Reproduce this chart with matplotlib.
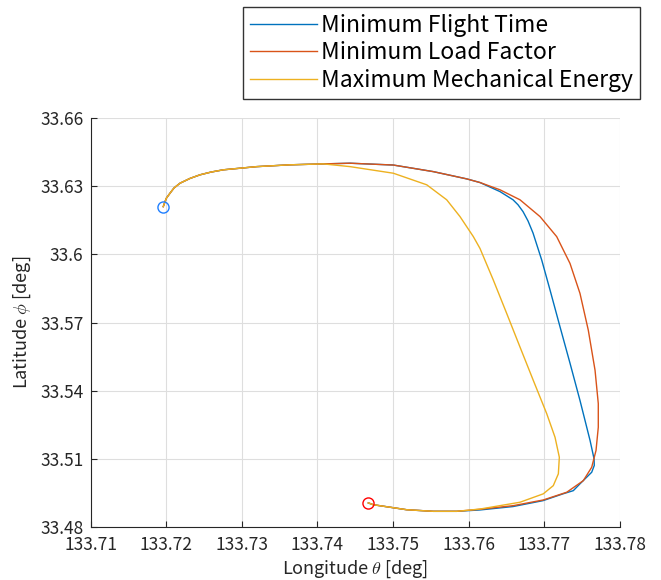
import matplotlib
matplotlib.use('Agg')
import matplotlib.pyplot as plt

plt.rcParams['font.family'] = ['Noto Sans CJK JP', 'DejaVu Sans']
plt.rcParams['mathtext.fontset'] = 'cm'

# trajectory points (longitude, latitude in deg)
start_lon = [133.71962, 133.71985, 133.72005, 133.72051, 133.72104, 133.72183,
             133.72315, 133.72448, 133.72593, 133.72756, 133.73197, 133.73637,
             133.74078]
start_lat = [33.6210, 33.6232, 33.6248, 33.6269, 33.6292, 33.6313,
             33.6334, 33.6350, 33.6362, 33.6372, 33.6386, 33.6394,
             33.6398]

end_lon = [133.75841, 133.75532, 133.7518, 133.7496, 133.74739, 133.74673]
end_lat = [33.4869, 33.4869, 33.4876, 33.4887, 33.4898, 33.4906]

flight_lon = [133.74431, 133.75003, 133.75532, 133.75974, 133.76149, 133.76414,
              133.76586, 133.76652, 133.76718, 133.76784, 133.7685, 133.76965,
              133.77075, 133.77207, 133.77339, 133.77471, 133.77604, 133.77657,
              133.7766, 133.77626, 133.77471, 133.77383, 133.77247, 133.76982,
              133.76586, 133.76149]
flight_lat = [33.6401, 33.6393, 33.6364, 33.6332, 33.6316, 33.6276,
              33.6240, 33.6218, 33.6188, 33.6147, 33.6094, 33.5975,
              33.5843, 33.5681, 33.5521, 33.5357, 33.5181, 33.5100,
              33.5071, 33.5041, 33.4990, 33.4960, 33.4946, 33.4916,
              33.4890, 33.4875]

load_lon = [133.74431, 133.75003, 133.75532, 133.75974, 133.76149, 133.76414,
            133.76678, 133.76943, 133.77163, 133.77339, 133.77471, 133.77581,
            133.7767, 133.77713, 133.77713, 133.77683, 133.77626, 133.77515,
            133.77296, 133.76986, 133.7659, 133.76149]
load_lat = [33.6401, 33.6393, 33.6364, 33.6332, 33.6316, 33.6284,
            33.6240, 33.6166, 33.6078, 33.5960, 33.5828, 33.5666,
            33.5490, 33.5343, 33.5239, 33.5137, 33.5063, 33.5004,
            33.4953, 33.4919, 33.4894, 33.4878]

energy_lon = [133.74431, 133.75003, 133.75445, 133.75709, 133.75885, 133.76061,
              133.76149, 133.76325, 133.76502, 133.76678, 133.76854,
              133.77031, 133.77141, 133.77198, 133.77185, 133.77118, 133.76986,
              133.76678, 133.76149]
energy_lat = [33.6386, 33.6357, 33.6306, 33.6240, 33.6166, 33.6078,
              33.6026, 33.5887, 33.5740, 33.5592, 33.5445,
              33.5299, 33.5195, 33.5107, 33.5034, 33.4982, 33.4946,
              33.4909, 33.4879]

labels = ['Minimum Flight Time', 'Minimum Load Factor', 'Maximum Mechanical Energy']
colors = ['#0072BD', '#D95319', '#EDB120']

xticks = [133.71, 133.72, 133.73, 133.74, 133.75, 133.76, 133.77, 133.78]
xticklabels = ['133.71', '133.72', '133.73', '133.74', '133.75', '133.76', '133.77', '133.78']
yticks = [33.48, 33.51, 33.54, 33.57, 33.60, 33.63, 33.66]
yticklabels = ['33.48', '33.51', '33.54', '33.57', '33.6', '33.63', '33.66']

fig = plt.figure(figsize=(6.61, 5.8), dpi=100)
ax = fig.add_axes([90.5 / 661, 1 - 527 / 580, 529.5 / 661, 409 / 580])

series = [(flight_lon, flight_lat), (load_lon, load_lat), (energy_lon, energy_lat)]
for (lon, lat), lab, col in zip(series, labels, colors):
    ax.plot(start_lon + lon + end_lon, start_lat + lat + end_lat,
            color=col, lw=1.0, label=lab, solid_joinstyle='round')

# start / end markers
ax.plot(start_lon[0], start_lat[0], 'o', mfc='none', mec='#1f7fff', ms=8, mew=1.0)
ax.plot(end_lon[-1], end_lat[-1], 'o', mfc='none', mec='red', ms=8, mew=1.0)

ax.set_xlim(133.71, 133.78)
ax.set_ylim(33.48, 33.66)
ax.set_xticks(xticks)
ax.set_xticklabels(xticklabels)
ax.set_yticks(yticks)
ax.set_yticklabels(yticklabels)
ax.grid(True, color='#dedede', lw=0.8)
ax.set_axisbelow(True)
for s in ['top', 'right']:
    ax.spines[s].set_visible(False)
for s in ['left', 'bottom']:
    ax.spines[s].set_color('#262626')
    ax.spines[s].set_linewidth(0.8)
ax.tick_params(direction='in', length=4, width=0.8, colors='#262626',
               labelsize=12.5, labelcolor='#262626')
ax.tick_params(axis='x', pad=6.5)
ax.tick_params(axis='y', pad=5)
ax.set_xlabel(r'Longitude $\theta$ [deg]', fontsize=13, color='#262626', labelpad=3)
ax.set_ylabel(r'Latitude $\phi$ [deg]', fontsize=13, color='#262626', labelpad=5)

handles = ax.get_lines()[:3]
leg = fig.legend(handles, labels, loc='upper right',
                 bbox_to_anchor=(640 / 661, 1 - 7 / 580), borderaxespad=0,
                 fontsize=16.5, frameon=True, fancybox=False, edgecolor='black',
                 handlelength=2.9, handletextpad=0.2, labelspacing=0.2,
                 borderpad=0.3)
leg.get_frame().set_linewidth(1.0)

fig.savefig('out.png', dpi=100)
